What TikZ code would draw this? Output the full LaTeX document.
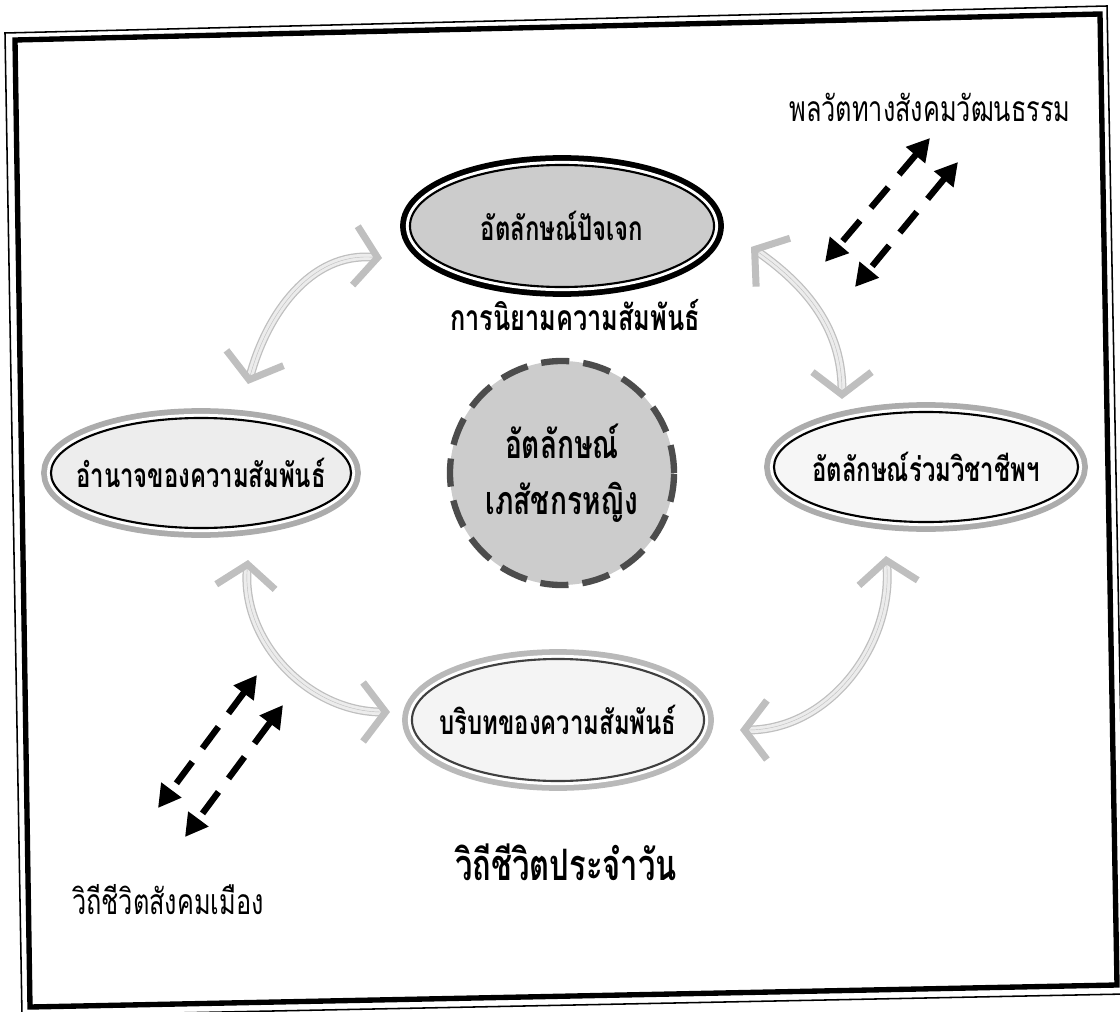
\documentclass[tikz,border=0pt]{standalone}
\usepackage{fontspec}
\usepackage{graphicx}
\newfontfamily\thai[Script=Thai]{Loma}
\usetikzlibrary{shapes.geometric,arrows.meta}

\newcommand{\tall}[1]{\scalebox{1}[1.4]{#1}}
\newcommand{\slim}[1]{\makebox[0pt]{\tall{#1}}}

\tikzset{
  rolebox/.style 2 args={ellipse, minimum width=7.6cm, minimum height=3.05cm,
    inner sep=0pt, draw=black, line width=1.5pt, fill=#2,
    preaction={draw=#1, line width=14pt},
    preaction={draw=white, line width=5.8pt},
    font=\thai\bfseries\fontsize{17}{20}\selectfont},
  flat/.style={minimum height=2.75cm},
  corebox/.style={circle, minimum size=5.6cm, inner sep=0pt,
    draw=gray!60!black, line width=4.5pt, dash pattern=on 20pt off 10pt,
    fill=gray!40, align=center,
    font=\thai\bfseries\fontsize{20}{40}\selectfont},
  captext/.style={font=\thai\bfseries\fontsize{18}{20}\selectfont},
  plaintext/.style={font=\thai\fontsize{18}{20}\selectfont},
  linkshaft/.style={draw=gray!50, line width=0.9pt, double=gray!15,
    double distance=4.5pt, shorten <=6pt, shorten >=6pt},
  linkhead/.style={draw=gray!50, line width=0.3pt,
    {Straight Barb[length=16pt,width=42pt,line width=5pt]}-{Straight Barb[length=16pt,width=42pt,line width=5pt]}},
  dasharrow/.style={line width=4.5pt, dash pattern=on 19pt off 12pt,
    {Triangle[length=16pt,width=17pt]}-{Triangle[length=16pt,width=17pt]}}
}

\begin{document}
\begin{tikzpicture}[x=0.025cm, y=-0.025cm]
  \useasboundingbox (0,0) rectangle (1120,1012);
  % double frame
  \draw[line width=1.1pt] (5,33) -- (1107,6) -- (1126,994) -- (22,1016) -- cycle;
  \draw[line width=3.8pt] (15,40) -- (1100,14) -- (1117,985) -- (30,1007) -- cycle;

  % the four identities and the centre
  \node[rolebox={black}{gray!40}] (self) at (562,226) {\slim{อัตลักษณ์ปัจเจก}};
  \node[rolebox={gray!65}{gray!14}, flat, minimum width=7.5cm] (power) at (201,473) {\slim{อำนาจของความสัมพันธ์}};
  \node[rolebox={gray!65}{gray!7}, flat] (prof) at (926,467) {\slim{อัตลักษณ์ร่วมวิชาชีพฯ}};
  \node[rolebox={gray!55}{gray!9}, minimum width=7.3cm, draw=gray!50!black] (context) at (558,720) {\slim{บริบทของความสัมพันธ์}};
  \node[corebox] (core) at (562,473) {\tall{อัตลักษณ์}\\\tall{เภสัชกรหญิง}};

  % captions
  \node[captext] (define) at (575,315) {\tall{การนิยามความสัมพันธ์}};
  \node[captext, font=\thai\bfseries\fontsize{22}{24}\selectfont] (daily) at (566,862) {\tall{วิถีชีวิตประจำวัน}};
  \node[plaintext] (urban) at (168,900) {\tall{วิถีชีวิตสังคมเมือง}};
  \node[plaintext] (dynamics) at (930,107) {\tall{พลวัตทางสังคมวัฒนธรรม}};

  % ends of the curved links
  \coordinate (t1) at (382,258);
  \coordinate (l1) at (248,384);
  \coordinate (t2) at (751,247);
  \coordinate (r2) at (842,399);
  \coordinate (l3) at (248,560);
  \coordinate (b3) at (390,712);
  \coordinate (r4) at (886,556);
  \coordinate (b4) at (740,730);
  \foreach \from/\to/\o/\i in {t1/l1/175/75, t2/r2/-35/90, l3/b3/-95/180, r4/b4/-85/0}
  {
    \draw[linkshaft] (\from) to[out=\o, in=\i] (\to);
    \draw[linkhead] (\from) to[out=\o, in=\i] (\to);
  }

  % dashed arrows
  \coordinate (c1) at (930,138);
  \coordinate (c2) at (825,262);
  \coordinate (d1) at (958,162);
  \coordinate (d2) at (855,287);
  \coordinate (a1) at (257,675);
  \coordinate (a2) at (158,808);
  \coordinate (b1) at (283,705);
  \coordinate (b2) at (185,837);
  \foreach \s/\e in {c1/c2, d1/d2, a1/a2, b1/b2}
    \draw[dasharrow] (\s) -- (\e);
\end{tikzpicture}
\end{document}
